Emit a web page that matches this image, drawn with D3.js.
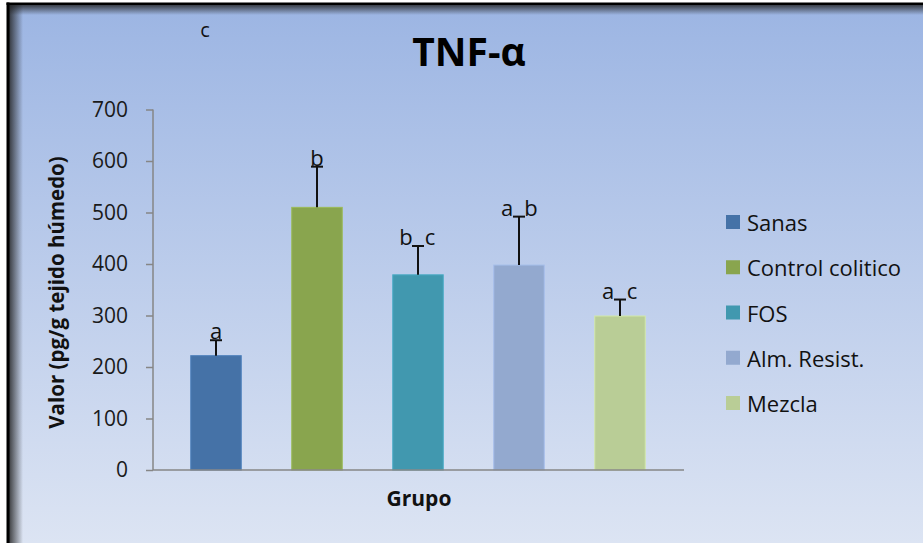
<!DOCTYPE html>
<html><head><meta charset="utf-8">
<script src="https://cdn.jsdelivr.net/npm/d3@7/dist/d3.min.js"></script>
<style>html,body{margin:0;padding:0;background:#fff;}svg{display:block;}</style>
</head><body>
<script>
const categories = ["Sanas", "Control colitico", "FOS", "Alm. Resist.", "Mezcla"];
const values = [222, 510, 379, 398, 299];
const errors = [30, 79, 56, 94, 32];
const letters = ["a", "b", "b c", "a b", "a c"];
const colors = ["#4572a7", "#89a54e", "#4198af", "#93a9cf", "#b9cd96"];
const yTicks = [0, 100, 200, 300, 400, 500, 600, 700];

const W = 923, H = 543;
const svg = d3.select("body").append("svg").attr("width", W).attr("height", H);
const defs = svg.append("defs");
const bg = defs.append("linearGradient").attr("id", "bg").attr("x1", 0).attr("y1", 0).attr("x2", 0).attr("y2", 1);
bg.append("stop").attr("offset", "0").attr("stop-color", "#9cb5e3");
bg.append("stop").attr("offset", "1").attr("stop-color", "#dce4f3");
const shL = defs.append("linearGradient").attr("id", "shL").attr("x1", 0).attr("y1", 0).attr("x2", 1).attr("y2", 0);
shL.append("stop").attr("offset", "0").attr("stop-color", "#222").attr("stop-opacity", 0.85);
shL.append("stop").attr("offset", "1").attr("stop-color", "#222").attr("stop-opacity", 0);
const shT = defs.append("linearGradient").attr("id", "shT").attr("x1", 0).attr("y1", 0).attr("x2", 0).attr("y2", 1);
shT.append("stop").attr("offset", "0").attr("stop-color", "#222").attr("stop-opacity", 0.8);
shT.append("stop").attr("offset", "1").attr("stop-color", "#222").attr("stop-opacity", 0);

svg.append("rect").attr("x", 9).attr("y", 5).attr("width", W - 9).attr("height", H - 5).attr("fill", "url(#bg)");
svg.append("rect").attr("x", 9).attr("y", 5).attr("width", 14).attr("height", H - 5).attr("fill", "url(#shL)");
svg.append("rect").attr("x", 9).attr("y", 5).attr("width", W - 9).attr("height", 10).attr("fill", "url(#shT)");
svg.append("rect").attr("x", 6.5).attr("y", 2.5).attr("width", 3).attr("height", H).attr("fill", "#000");
svg.append("rect").attr("x", 6.5).attr("y", 2.5).attr("width", W).attr("height", 2.5).attr("fill", "#000");

const font = "'Open Sans', 'DejaVu Sans', sans-serif";
const y = d3.scaleLinear().domain([0, 700]).range([470, 109.5]);
const x = d3.scaleBand().domain(categories).range([165.5, 670.5]).paddingInner(0.5).paddingOuter(0.25);

// Y axis
const yAxis = svg.append("g").attr("transform", "translate(153,0)")
  .call(d3.axisLeft(y).tickValues(yTicks).tickSize(7).tickPadding(18).tickFormat(d3.format("d")));
yAxis.select(".domain").attr("stroke", "#868686").attr("stroke-width", 1.5).attr("d", `M0,${y(700)}V${y(0)}`);
yAxis.selectAll(".tick line").attr("stroke", "#868686").attr("stroke-width", 1.5);
yAxis.selectAll(".tick text").attr("font-family", font).attr("font-size", 21).attr("fill", "#1a1a1a");

// bars
svg.append("g").selectAll("rect").data(categories).join("rect")
  .attr("x", d => x(d)).attr("width", x.bandwidth())
  .attr("y", (d, i) => y(values[i])).attr("height", (d, i) => y(0) - y(values[i]))
  .attr("fill", (d, i) => colors[i])
  .attr("stroke", (d, i) => d3.color(colors[i]).brighter(0.35)).attr("stroke-width", 1);

// X axis line
svg.append("line").attr("x1", 153).attr("x2", 684).attr("y1", y(0)).attr("y2", y(0))
  .attr("stroke", "#868686").attr("stroke-width", 1.5);

// error bars
const eb = svg.append("g").attr("stroke", "#111").attr("stroke-width", 2);
categories.forEach((c, i) => {
  const cx = x(c) + x.bandwidth() / 2;
  const top = y(values[i] + errors[i]);
  eb.append("line").attr("x1", cx).attr("x2", cx).attr("y1", y(values[i])).attr("y2", top);
  eb.append("line").attr("x1", cx - 6).attr("x2", cx + 6).attr("y1", top).attr("y2", top);
  const parts = letters[i].split(" ");
  parts.forEach((p, j) => {
    const off = parts.length === 1 ? 0 : (j === 0 ? -12 : 12);
    svg.append("text").attr("x", cx + off).attr("y", top - 1)
      .attr("text-anchor", "middle").attr("font-family", font).attr("font-size", 22)
      .attr("fill", "#111").text(p);
  });
});

// title
svg.append("text").attr("x", 469).attr("y", 66).attr("text-anchor", "middle")
  .attr("font-family", font).attr("font-weight", "bold").attr("font-size", 39).attr("fill", "#000").text("TNF-α");
// stray letter
svg.append("text").attr("x", 205).attr("y", 37).attr("text-anchor", "middle")
  .attr("font-family", font).attr("font-size", 20).attr("fill", "#111").text("c");

// axis titles
svg.append("text").attr("transform", "translate(64,292.5) rotate(-90)").attr("text-anchor", "middle")
  .attr("font-family", font).attr("font-weight", "bold").attr("font-size", 20.5).attr("fill", "#111")
  .text("Valor (pg/g tejido húmedo)");
svg.append("text").attr("x", 419).attr("y", 506).attr("text-anchor", "middle")
  .attr("font-family", font).attr("font-weight", "bold").attr("font-size", 21).attr("fill", "#111").text("Grupo");

// legend
const legY = d3.scalePoint().domain(categories).range([222, 403]);
const leg = svg.append("g");
categories.forEach((c, i) => {
  leg.append("rect").attr("x", 726).attr("y", legY(c) - 7).attr("width", 14).attr("height", 14).attr("fill", colors[i]);
  leg.append("text").attr("x", 747).attr("y", legY(c)).attr("dominant-baseline", "central")
    .attr("font-family", font).attr("font-size", 22).attr("fill", "#111").text(c);
});
</script>
</body></html>
